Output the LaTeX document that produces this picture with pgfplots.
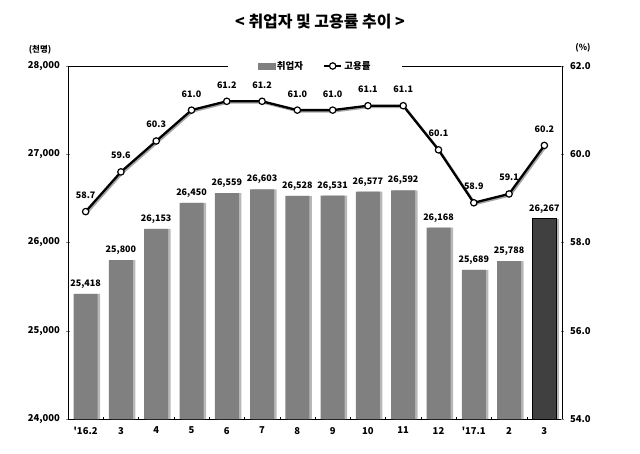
\documentclass[border=0pt]{standalone}
\usepackage{fontspec}
\setmainfont{Noto Sans CJK KR}
\usepackage{pgfplots}
\usepackage{pgfplotstable}
\pgfplotsset{compat=1.18}
\definecolor{barg}{HTML}{808080}
\definecolor{bard}{HTML}{404040}
\definecolor{shad}{HTML}{B8B8B8}

\pgfplotstableread{
x emp rate
0 25418 58.7
1 25800 59.6
2 26153 60.3
3 26450 61.0
4 26559 61.2
5 26603 61.2
6 26528 61.0
7 26531 61.0
8 26577 61.1
9 26592 61.1
10 26168 60.1
11 25689 58.9
12 25788 59.1
}\grey
\pgfplotstableread{
x emp rate
13 26267 60.2
}\dark
\pgfplotstableread{
x rate
0 58.7
1 59.6
2 60.3
3 61.0
4 61.2
5 61.2
6 61.0
7 61.0
8 61.1
9 61.1
10 60.1
11 58.9
12 59.1
13 60.2
}\ratedata

\begin{document}
\begin{tikzpicture}
\path[use as bounding box] (0,0) rectangle (640bp,454bp);
\begin{axis}[
  at={(68bp,35bp)}, anchor=south west,
  scale only axis, width=494bp, height=353bp,
  xmin=-0.5, xmax=13.5, ymin=24000, ymax=28000,
  ytick={24000,25000,26000,27000,28000},
  scaled y ticks=false,
  xtick={0,...,13},
  xticklabels={\textquotesingle16.2,3,4,5,6,7,8,9,10,11,12,\textquotesingle17.1,2,3},
  minor xtick={0.5,1.5,...,12.5},
  major x tick style={draw=none},
  minor x tick style={black, thin},
  minor tick length=3bp,
  major tick length=3bp,
  tick align=center,
  xtick pos=bottom, ytick pos=left,
  axis line style={black, line width=0.6bp},
  /pgf/number format/assume math mode=true,
  /pgf/number format/1000 sep={{,}},
  tick label style={font=\bfseries\fontsize{9.5}{11}\selectfont},
  xticklabel style={yshift=-3bp},
  yticklabel style={xshift=-3bp},
  bar width=24bp,
  clip=false,
]
\addplot[ybar, fill=shad, draw=none, bar shift=2.5bp, bar width=24bp] table[x=x, y=emp] {\grey};
\addplot[ybar, fill=barg, draw=none,
  nodes near coords,
  every node near coord/.append style={font=\bfseries\fontsize{9}{10}\selectfont, black, anchor=south, yshift=2bp}
  ] table[x=x, y=emp] {\grey};
\addplot[ybar, fill=shad, draw=none, bar shift=2.5bp, bar width=24bp] table[x=x, y=emp] {\dark};
\addplot[ybar, fill=bard, draw=black, line width=1bp,
  nodes near coords,
  every node near coord/.append style={font=\bfseries\fontsize{9}{10}\selectfont, black, anchor=south, yshift=2bp}
  ] table[x=x, y=emp] {\dark};
\end{axis}
\begin{axis}[
  at={(68bp,35bp)}, anchor=south west,
  scale only axis, width=494bp, height=353bp,
  xmin=-0.5, xmax=13.5, ymin=54, ymax=62,
  axis x line=none,
  axis y line*=right,
  ytick={54,56,58,60,62},
  major tick length=3bp,
  tick align=center,
  axis line style={black, line width=0.6bp},
  /pgf/number format/assume math mode=true,
  /pgf/number format/fixed,
  /pgf/number format/fixed zerofill,
  /pgf/number format/precision=1,
  tick label style={font=\bfseries\fontsize{9.5}{11}\selectfont},
  yticklabel style={xshift=3bp},
  clip=false,
  legend style={at={(0.5,1)}, anchor=center, draw=none, fill=white,
    legend columns=2, inner xsep=30bp, inner ysep=4bp,
    font=\bfseries\fontsize{9.5}{11}\selectfont,
    /tikz/every even column/.append style={column sep=18bp}},
  legend cell align=left,
]
\addlegendimage{area legend, fill=barg, draw=barg}
\addlegendentry{취업자}
\addplot[black!35, line width=2.5bp, forget plot, xshift=1.2bp, yshift=-1.2bp] table[x=x, y=rate] {\ratedata};
\addplot[black, line width=2.3bp, mark=*, mark size=3.2bp,
  mark options={fill=white, draw=black, line width=1.2bp},
  nodes near coords,
  every node near coord/.append style={font=\bfseries\fontsize{9}{10}\selectfont, black, anchor=south, yshift=9bp}
  ] table[x=x, y=rate] {\ratedata};
\addlegendentry{고용률}
\end{axis}
\node[font=\bfseries\fontsize{8.5}{10}\selectfont] at (40bp,404bp) {(천명)};
\node[font=\bfseries\fontsize{8.5}{10}\selectfont] at (583bp,406bp) {(\%)};
\node[font=\bfseries\fontsize{16}{19}\selectfont] at (320bp,432bp) {<\ 취업자\ 및\ 고용률\ 추이\ >};
\end{tikzpicture}
\end{document}
